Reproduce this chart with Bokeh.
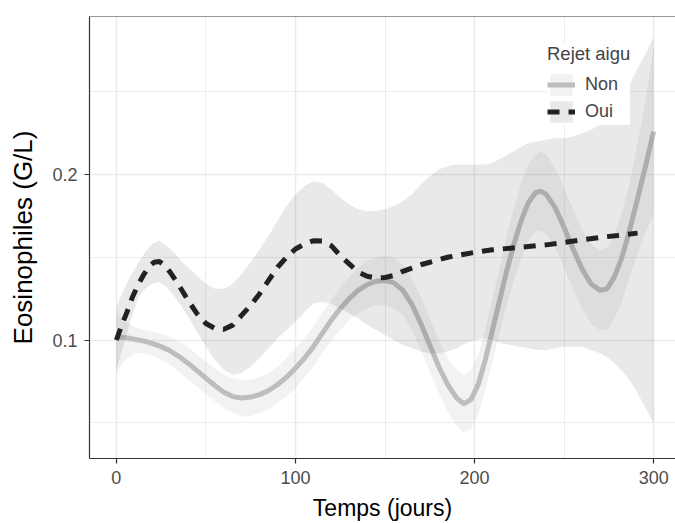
from bokeh.plotting import figure
from bokeh.models import Range1d, FixedTicker, Legend, LegendItem, Span, ColumnDataSource
from bokeh.embed import file_html
from bokeh.resources import INLINE

# ---- data ----
groups = ["Non", "Oui"]
x_ticks = [0, 100, 200, 300]
x_minor = [50, 150, 250]
y_ticks = [0.1, 0.2]
y_minor = [0.05, 0.15, 0.25]

non_x = [0, 5, 10, 15, 20, 25, 30, 35, 40, 45, 50, 55, 60, 65, 70, 75, 80, 85, 90, 95, 100,
         105, 110, 115, 120, 125, 130, 135, 140, 145, 150, 155, 160, 165, 170, 175, 180, 185,
         190, 194, 198, 202, 206, 210, 214, 218, 222, 226, 230, 234, 237, 240, 245, 250, 255,
         260, 265, 270, 274, 278, 282, 286, 290, 295, 300]
non_y = [0.102, 0.1015, 0.1005, 0.0995, 0.098, 0.096, 0.0935, 0.090, 0.086, 0.0815, 0.077,
         0.0725, 0.0685, 0.0658, 0.065, 0.0655, 0.067, 0.0695, 0.073, 0.0775, 0.083, 0.089,
         0.096, 0.104, 0.112, 0.119, 0.125, 0.130, 0.1335, 0.1355, 0.136, 0.1345, 0.130, 0.1215,
         0.110, 0.097, 0.084, 0.073, 0.065, 0.0615, 0.064, 0.073, 0.088, 0.106, 0.124, 0.142,
         0.158, 0.172, 0.183, 0.189, 0.190, 0.188, 0.180, 0.168, 0.155, 0.143, 0.134, 0.130,
         0.131, 0.138, 0.149, 0.164, 0.181, 0.203, 0.226]
non_hi = [0.116, 0.111, 0.108, 0.106, 0.105, 0.104, 0.102, 0.099, 0.096, 0.091, 0.087, 0.083,
          0.079, 0.077, 0.076, 0.076, 0.0775, 0.080, 0.084, 0.089, 0.095, 0.101, 0.108, 0.116,
          0.124, 0.132, 0.138, 0.144, 0.148, 0.150, 0.151, 0.150, 0.145, 0.137, 0.126, 0.113,
          0.100, 0.089, 0.082, 0.079, 0.082, 0.091, 0.106, 0.125, 0.144, 0.163, 0.180, 0.195,
          0.206, 0.212, 0.214, 0.212, 0.204, 0.192, 0.179, 0.167, 0.158, 0.154, 0.156, 0.163,
          0.176, 0.192, 0.213, 0.242, 0.276]
non_lo = [0.080, 0.088, 0.092, 0.092, 0.091, 0.088, 0.085, 0.081, 0.076, 0.072, 0.067, 0.063,
          0.059, 0.056, 0.054, 0.054, 0.056, 0.058, 0.062, 0.066, 0.071, 0.077, 0.084, 0.092,
          0.100, 0.106, 0.112, 0.116, 0.119, 0.121, 0.121, 0.119, 0.115, 0.106, 0.094, 0.081,
          0.068, 0.057, 0.048, 0.044, 0.046, 0.055, 0.070, 0.087, 0.104, 0.121, 0.136, 0.149,
          0.160, 0.166, 0.166, 0.164, 0.156, 0.144, 0.131, 0.119, 0.110, 0.106, 0.106, 0.113,
          0.122, 0.136, 0.149, 0.164, 0.176]

oui_x = [0, 3, 6, 9, 12, 15, 18, 21, 24, 27, 30, 35, 40, 45, 50, 55, 60, 65, 70, 75, 80, 85,
         90, 95, 100, 105, 110, 115, 120, 125, 130, 135, 140, 145, 150, 155, 160, 165, 170, 175,
         180, 185, 190, 195, 200, 210, 220, 230, 240, 250, 260, 270, 280, 291]
oui_y = [0.100, 0.109, 0.117, 0.126, 0.133, 0.139, 0.144, 0.147, 0.1475, 0.145, 0.141, 0.133,
         0.124, 0.116, 0.110, 0.107, 0.1065, 0.109, 0.115, 0.121, 0.128, 0.136, 0.144, 0.150,
         0.155, 0.158, 0.160, 0.1598, 0.157, 0.151, 0.146, 0.141, 0.1385, 0.1375, 0.1378, 0.139,
         0.1415, 0.1435, 0.1455, 0.147, 0.1485, 0.150, 0.151, 0.152, 0.153, 0.1545, 0.1555,
         0.1565, 0.1575, 0.159, 0.1605, 0.162, 0.1632, 0.1646]

oui_rib_x = [0, 4, 8, 12, 16, 20, 24, 28, 32, 36, 40, 45, 50, 55, 60, 65, 70, 75, 80, 85, 90,
             95, 100, 105, 110, 115, 120, 125, 130, 135, 140, 145, 150, 155, 160, 165, 170, 175,
             180, 185, 190, 195, 200, 205, 210, 215, 220, 225, 230, 235, 240, 245, 250, 255, 260,
             265, 270, 275, 280, 285, 290, 295, 300]
oui_hi = [0.120, 0.130, 0.139, 0.146, 0.153, 0.158, 0.160, 0.157, 0.153, 0.148, 0.144, 0.139,
          0.134, 0.131, 0.131, 0.134, 0.140, 0.147, 0.155, 0.163, 0.172, 0.181, 0.188, 0.193,
          0.196, 0.195, 0.191, 0.186, 0.182, 0.179, 0.178, 0.178, 0.179, 0.181, 0.184, 0.188,
          0.194, 0.199, 0.203, 0.205, 0.206, 0.206, 0.206, 0.206, 0.207, 0.210, 0.213, 0.216,
          0.219, 0.220, 0.221, 0.222, 0.222, 0.223, 0.225, 0.227, 0.230, 0.236, 0.242, 0.251,
          0.262, 0.272, 0.283]
oui_lo = [0.082, 0.097, 0.112, 0.125, 0.131, 0.134, 0.135, 0.132, 0.127, 0.121, 0.114, 0.105,
          0.096, 0.088, 0.082, 0.079, 0.080, 0.084, 0.089, 0.095, 0.101, 0.106, 0.111, 0.117,
          0.122, 0.123, 0.122, 0.119, 0.116, 0.113, 0.109, 0.106, 0.103, 0.100, 0.097, 0.095,
          0.093, 0.092, 0.092, 0.093, 0.095, 0.098, 0.100, 0.101, 0.100, 0.098, 0.097, 0.096,
          0.095, 0.094, 0.094, 0.095, 0.096, 0.096, 0.096, 0.094, 0.092, 0.089, 0.084, 0.078,
          0.070, 0.060, 0.050]

FONT = "Liberation Sans"

p = figure(width=675, height=523,
           x_range=Range1d(-15, 312.2), y_range=Range1d(0.0284, 0.2955),
           output_backend="svg", toolbar_location=None,
           min_border_left=89, min_border_right=0, min_border_top=16, min_border_bottom=59)
p.outline_line_color = None
p.background_fill_color = "white"
p.border_fill_color = "white"

src_non = ColumnDataSource(dict(x=non_x, y=non_y, lo=non_lo, hi=non_hi))
src_oui = ColumnDataSource(dict(x=oui_x, y=oui_y))
src_oui_rib = ColumnDataSource(dict(x=oui_rib_x, lo=oui_lo, hi=oui_hi))

r_non_rib = p.varea(x="x", y1="lo", y2="hi", source=src_non, fill_color="#BEBEBE", fill_alpha=0.2)
r_non_line = p.line(x="x", y="y", source=src_non, line_color="#BDBDBD", line_width=5)
r_oui_rib = p.varea(x="x", y1="lo", y2="hi", source=src_oui_rib, fill_color="#262626", fill_alpha=0.1)
r_oui_line = p.line(x="x", y="y", source=src_oui, line_color="#222222", line_width=5,
                    line_dash="12 9")

# grid
p.xaxis.ticker = FixedTicker(ticks=x_ticks, minor_ticks=x_minor)
p.yaxis.ticker = FixedTicker(ticks=y_ticks, minor_ticks=y_minor)
for g in (p.xgrid, p.ygrid):
    g.grid_line_color = "#EBEBEB"
    g.grid_line_width = 1.5
    g.minor_grid_line_color = "#EBEBEB"
    g.minor_grid_line_width = 0.9
p.xgrid.ticker = p.xaxis.ticker
p.ygrid.ticker = p.yaxis.ticker
p.xgrid.level = "image"
p.ygrid.level = "image"

for ax in (p.xaxis, p.yaxis):
    ax.axis_line_color = "#333333"
    ax.axis_line_width = 1.2
    ax.major_tick_line_color = "#333333"
    ax.major_tick_line_width = 1.2
    ax.major_tick_out = 5
    ax.major_tick_in = 0
    ax.minor_tick_out = 0
    ax.minor_tick_in = 0
    ax.major_label_text_font = FONT
    ax.major_label_text_font_size = "18px"
    ax.major_label_text_color = "#4D4D4D"
    ax.axis_label_text_font = FONT
    ax.axis_label_text_font_style = "normal"
    ax.axis_label_text_color = "black"

p.xaxis.axis_label_text_font_size = "23px"
p.yaxis.axis_label_text_font_size = "26px"
p.xaxis.axis_label = "Temps (jours)"
p.yaxis.axis_label = "Eosinophiles (G/L)"
p.xaxis.major_label_standoff = 7
p.yaxis.major_label_standoff = 7
p.xaxis.axis_label_standoff = 8
p.yaxis.axis_label_standoff = 11

top = Span(location=0.2955, dimension="width", line_color="#333333", line_width=1.2)
p.add_layout(top)

legend = Legend(items=[LegendItem(label=groups[0], renderers=[r_non_rib, r_non_line]),
                       LegendItem(label=groups[1], renderers=[r_oui_rib, r_oui_line])],
                location=(458, 333), title="Rejet aigu")
legend.title_text_font = FONT
legend.title_text_font_size = "18.5px"
legend.title_text_font_style = "normal"
legend.title_standoff = 6
legend.label_text_font = FONT
legend.label_text_font_size = "18px"
legend.glyph_width = 28
legend.glyph_height = 27
legend.label_height = 27
legend.label_standoff = 10
legend.padding = 8
legend.spacing = 0
legend.margin = 0
legend.border_line_color = None
legend.background_fill_color = "white"
legend.background_fill_alpha = 1.0
p.add_layout(legend)

open("out.html", "w").write(file_html(p, INLINE))
